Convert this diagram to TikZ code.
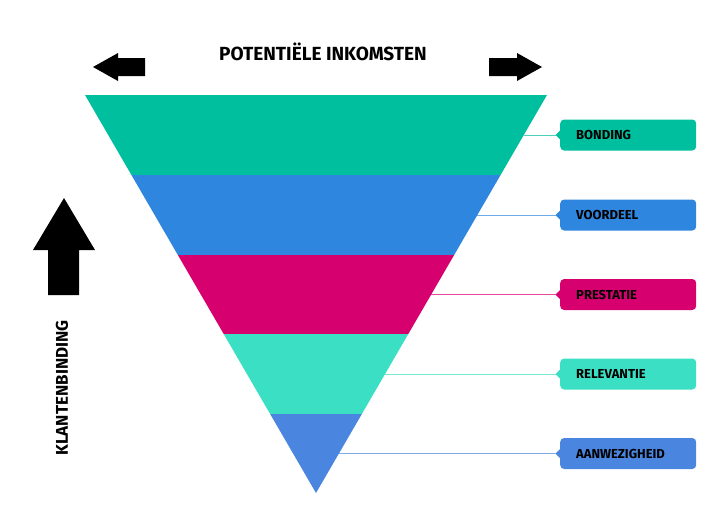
\documentclass[tikz,border=0pt]{standalone}
\usepackage{fontspec}
\setmainfont{Fira Sans}
\definecolor{cBond}{HTML}{00BF9F}
\definecolor{cVoor}{HTML}{2E86DE}
\definecolor{cPres}{HTML}{D6006F}
\definecolor{cRel}{HTML}{3BDFC4}
\definecolor{cAan}{HTML}{4A86E0}
\begin{document}
\begin{tikzpicture}[x=1pt,y=-1pt]
    \tikzstyle{tag}=[rounded corners=4pt,minimum width=136pt,minimum height=31pt,anchor=west,
        text=black,font=\bfseries\fontsize{13}{14}\selectfont,inner sep=0pt,text width=136pt,align=left]
    \tikzstyle{link}=[draw,line width=0.8pt]
    \useasboundingbox (0,0) rectangle (723,515);

    \def\L{85} \def\R{547} \def\T{95} \def\s{0.5804}

    % funnel bands
    \foreach \a/\b/\c/\name/\lab in {95/175/cBond/bond/BONDING,175/255/cVoor/voor/VOORDEEL,
        255/334/cPres/pres/PRESTATIE,334/414/cRel/rel/RELEVANTIE,414/493/cAan/aan/AANWEZIGHEID}{
        \fill[\c] ({\L+(\a-\T)*\s},\a) -- ({\R-(\a-\T)*\s},\a) -- ({\R-(\b-\T)*\s},\b) -- ({\L+(\b-\T)*\s},\b) -- cycle;
        \pgfmathsetmacro\m{(\a+\b)/2}
        \coordinate (e\name) at ({\R-(\m-\T)*\s},\m);
        \node[tag,fill=\c] (t\name) at (560,\m) {\hspace*{16pt}\lab};
        \fill[\c] (t\name.west) ++(0.5,-5) -- ++(-5,5) -- ++(5,5) -- cycle;
        \path[link,draw=\c!70!white] (e\name) -- ([xshift=-4pt]t\name.west);
    }

    % axes
    \node[font=\bfseries\fontsize{19}{21}\selectfont] (title) at (323,52) {POTENTIËLE INKOMSTEN};
    \fill (93,67) -- (118,53) -- (118,58) -- (145,58) -- (145,76) -- (118,76) -- (118,81) -- cycle;
    \fill (542,67) -- (517,53) -- (517,58) -- (489,58) -- (489,76) -- (517,76) -- (517,81) -- cycle;
    \fill (64,198) -- (95,250) -- (79,250) -- (79,295) -- (48,295) -- (48,250) -- (33,250) -- cycle;
    \node[rotate=90,font=\bfseries\fontsize{17}{19}\selectfont] (axis) at (62,388) {KLANTENBINDING};
\end{tikzpicture}
\end{document}
